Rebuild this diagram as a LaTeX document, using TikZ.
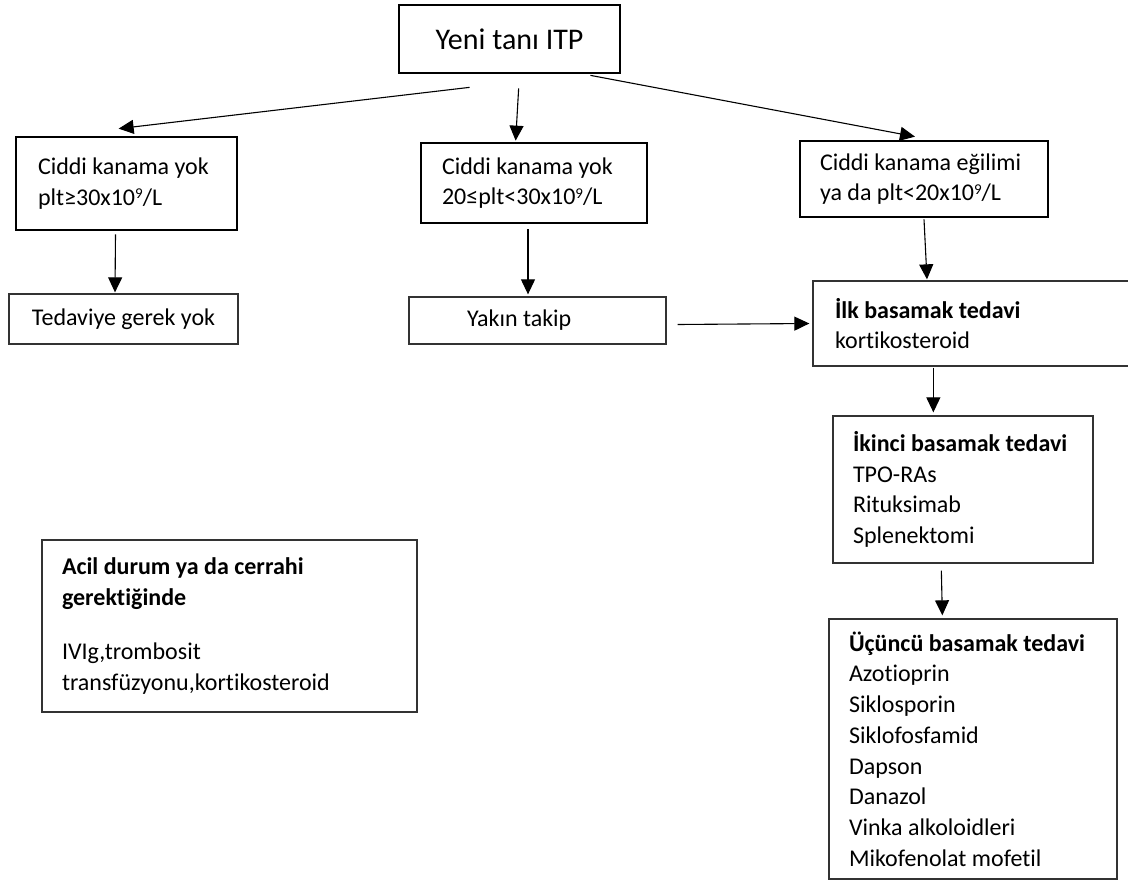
\documentclass[tikz,border=0pt]{standalone}
\usepackage{fontspec}
\setmainfont{Carlito}[Ligatures=NoCommon]
\usepackage{tikz}
\usetikzlibrary{arrows.meta}
\usetikzlibrary{positioning}
\newcommand{\supnine}{\raisebox{6.5pt}{\fontsize{15}{15}\selectfont 9}}

\begin{document}
\begin{tikzpicture} [x=1pt, y=-1pt,
                thickbox/.style = {draw=black, line width=2.7pt, inner ysep=0pt, align=flush left},
                thinbox/.style = {draw=black!80, line width=1.3pt, inner ysep=0pt, align=flush left},
                arr/.style = {-{Triangle[length=15pt,width=14pt]}, line width=1.1pt},
                body/.style = {font=\fontsize{24}{30.7}\selectfont}
            ]
            \useasboundingbox (0,0) rectangle (1128,894);
            \node[thickbox, minimum width=221pt, minimum height=68pt, align=center, font=\fontsize{30}{34}\selectfont] (itp) at (509.5,39) {Yeni tanı ITP};
            \node[thickbox, body, minimum width=221pt, minimum height=93pt, inner xsep=22pt, text width=177pt] (yok1) at (126.5,183.5) {Ciddi kanama yok\\plt≥30x10\supnine/L};
            \node[thickbox, body, minimum width=226pt, minimum height=80pt, inner xsep=21pt, text width=184pt] (yok2) at (534,183) {Ciddi kanama yok\\20≤plt<30x10\supnine/L};
            \node[thickbox, body, minimum width=248pt, minimum height=76pt, inner xsep=20pt, text width=208pt] (egilim) at (924,179) {Ciddi kanama eğilimi\\ya da plt<20x10\supnine/L};
            \node[thinbox, body, minimum width=229pt, minimum height=50pt, inner xsep=10pt, text width=209pt, align=flush center] (gerekyok) at (123.5,319) {Tedaviye gerek yok};
            \node[thinbox, body, minimum width=257pt, minimum height=47pt, inner xsep=0pt, text width=257pt] (takip) at (537.5,320.5) {\hspace*{58pt}Yakın takip};
            \node[thinbox, body, minimum width=317pt, minimum height=85pt, inner xsep=22pt, text width=273pt] (ilk) at (971.5,323.5) {\textbf{İlk basamak tedavi}\\kortikosteroid};
            \node[thinbox, body, minimum width=260pt, minimum height=147pt, inner xsep=20pt, text width=220pt] (ikinci) at (963,489.5) {\textbf{İkinci basamak tedavi}\\TPO-RAs\\Rituksimab\\Splenektomi};
            \node[thinbox, body, minimum width=288pt, minimum height=260pt, inner xsep=20pt, text width=248pt] (ucuncu) at (973,749) {\textbf{Üçüncü basamak tedavi}\\Azotioprin\\Siklosporin\\Siklofosfamid\\Dapson\\Danazol\\Vinka alkoloidleri\\Mikofenolat mofetil};
            \node[thinbox, body, minimum width=375pt, minimum height=172pt, inner xsep=20pt, text width=335pt] (acil) at (229.5,626) {\textbf{Acil durum ya da cerrahi}\\\textbf{gerektiğinde}\\[24pt]IVIg,trombosit\\transfüzyonu,kortikosteroid};
            % branches from the diagnosis
            \draw [arr] ([xshift=72pt,yshift=-13pt] itp.south west) -- ([xshift=104pt,yshift=7pt] yok1.north west);
            \draw [arr] ([xshift=121pt,yshift=-14pt] itp.south west) -- ([xshift=96pt,yshift=1pt] yok2.north west);
            \draw [arr] ([xshift=-31pt,yshift=-1pt] itp.south east) -- ([xshift=-9pt,yshift=3pt] egilim.north);
            % downward steps
            \draw [arr] ([xshift=-11pt,yshift=-3pt] yok1.south) -- ([xshift=-8.5pt,yshift=1pt] gerekyok.north);
            \draw [arr] ([xshift=-6pt,yshift=-5pt] yok2.south) -- ([xshift=-9.5pt,yshift=2pt] takip.north);
            \draw [arr] ([yshift=-1pt] egilim.south) -- ([xshift=-44.5pt,yshift=1pt] ilk.north);
            \draw [arr] ([xshift=11pt,yshift=-4pt] takip.east) -- ([xshift=-3pt,yshift=0pt] ilk.west);
            \draw [arr] ([xshift=121pt,yshift=-1pt] ilk.south west) -- ([xshift=101pt,yshift=3pt] ikinci.north west);
            \draw [arr] ([xshift=109pt,yshift=-7pt] ikinci.south west) -- ([xshift=114pt,yshift=3pt] ucuncu.north west);
        \end{tikzpicture}
\end{document}
